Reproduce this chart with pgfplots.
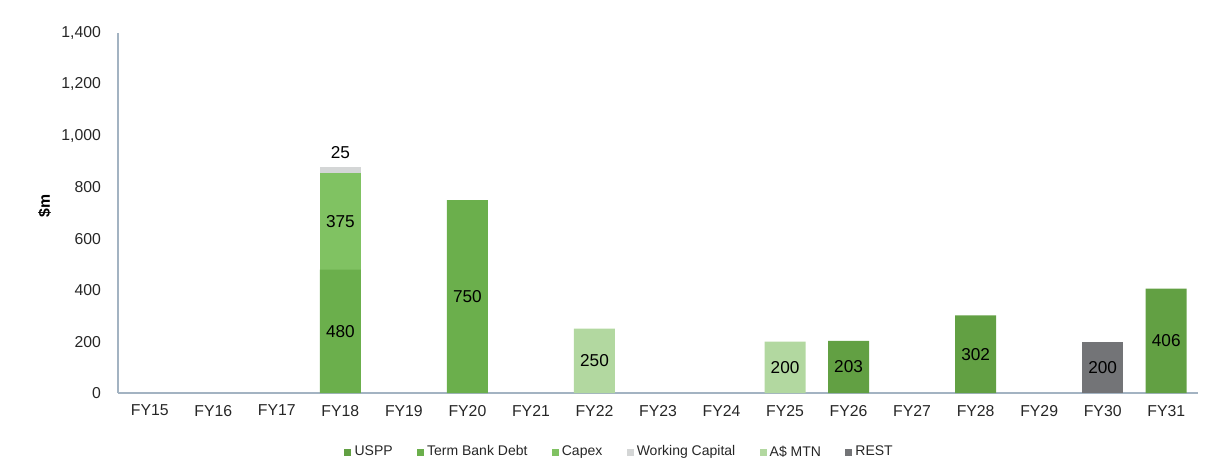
\documentclass[border=0pt]{standalone}
\usepackage{fontspec}
\setmainfont{Liberation Sans}
\usepackage{pgfplots}
\pgfplotsset{compat=1.18}
\usepackage{pgfplotstable}

\definecolor{cUSPP}{HTML}{62A043}
\definecolor{cTerm}{HTML}{6BAF4C}
\definecolor{cCapex}{HTML}{80C262}
\definecolor{cWC}{HTML}{D4D6D6}
\definecolor{cMTN}{HTML}{B2D8A0}
\definecolor{cREST}{HTML}{737477}
\definecolor{axline}{HTML}{A3B3C2}

% x: 0=FY15 ... 16=FY31
\pgfplotstableread{
x uspp term capex wc mtn rest
0  0   0   0   0  0   0
1  0   0   0   0  0   0
2  0   0   0   0  0   0
3  0   480 375 25 0   0
4  0   0   0   0  0   0
5  0   750 0   0  0   0
6  0   0   0   0  0   0
7  0   0   0   0  250 0
8  0   0   0   0  0   0
9  0   0   0   0  0   0
10 0   0   0   0  200 0
11 203 0   0   0  0   0
12 0   0   0   0  0   0
13 302 0   0   0  0   0
14 0   0   0   0  0   0
15 0   0   0   0  0   200
16 406 0   0   0  0   0
}\datatable

\pgfplotstableread{
x y label
3  240   480
3  667.5 375
3  935   25
5  375   750
7  125   250
10 100   200
11 101.5 203
13 151   302
15 100   200
16 203   406
}\labeltable

\begin{document}
\begin{tikzpicture}
\useasboundingbox (-59pt,-35pt) rectangle (546.5pt,196.5pt);
\begin{axis}[
  scale only axis,
  width=540pt, height=180pt,
  xmin=-0.5, xmax=16.5,
  ymin=0, ymax=1400,
  ybar stacked,
  bar width=20.5pt,
  axis x line*=bottom, axis y line*=left,
  axis line style={axline, line width=0.6pt},
  major tick length=0pt,
  xtick={0,...,16},
  xticklabels={FY15,FY16,FY17,FY18,FY19,FY20,FY21,FY22,FY23,FY24,FY25,FY26,FY27,FY28,FY29,FY30,FY31},
  ytick={0,200,...,1400},
  /pgf/number format/.cd, 1000 sep={,}, assume math mode=true, /pgfplots/.cd,
  tick label style={font=\fontsize{7.9}{9}\selectfont, text=black!85},
  xticklabel style={yshift=-2.5pt},
  yticklabel style={xshift=-5pt},
  ylabel={\textbf{\$m}},
  ylabel style={font=\fontsize{7.9}{9}\selectfont, at={(axis description cs:-0.068,0.52)}, anchor=center},
  legend columns=6,
  legend style={draw=none, fill=none, at={(0.465,-0.165)}, anchor=center,
    font=\fontsize{7}{8.4}\selectfont, text=black!85,
    /tikz/every even column/.append style={column sep=10.5pt},
    nodes={inner sep=1.6pt}},
  legend image code/.code={\draw[#1,draw=none] (0pt,-1.75pt) rectangle (3.5pt,1.75pt);},
]
\addplot[fill=cUSPP, draw=none] table[x=x, y=uspp] {\datatable};
\addlegendentry{USPP}
\addplot[fill=cTerm, draw=none] table[x=x, y=term] {\datatable};
\addlegendentry{Term Bank Debt}
\addplot[fill=cCapex, draw=none] table[x=x, y=capex] {\datatable};
\addlegendentry{Capex}
\addplot[fill=cWC, draw=none] table[x=x, y=wc] {\datatable};
\addlegendentry{Working Capital}
\addplot[fill=cMTN, draw=none] table[x=x, y=mtn] {\datatable};
\addlegendentry{A\$ MTN}
\addplot[fill=cREST, draw=none] table[x=x, y=rest] {\datatable};
\addlegendentry{REST}
\end{axis}
\begin{axis}[
  scale only axis,
  width=540pt, height=180pt,
  xmin=-0.5, xmax=16.5,
  ymin=0, ymax=1400,
  hide axis,
]
\addplot[draw=none, mark=none, nodes near coords, point meta=explicit symbolic,
  every node near coord/.append style={anchor=center, font=\fontsize{8.6}{10}\selectfont, text=black}]
  table[x=x, y=y, meta=label] {\labeltable};
\end{axis}
\end{tikzpicture}
\end{document}
